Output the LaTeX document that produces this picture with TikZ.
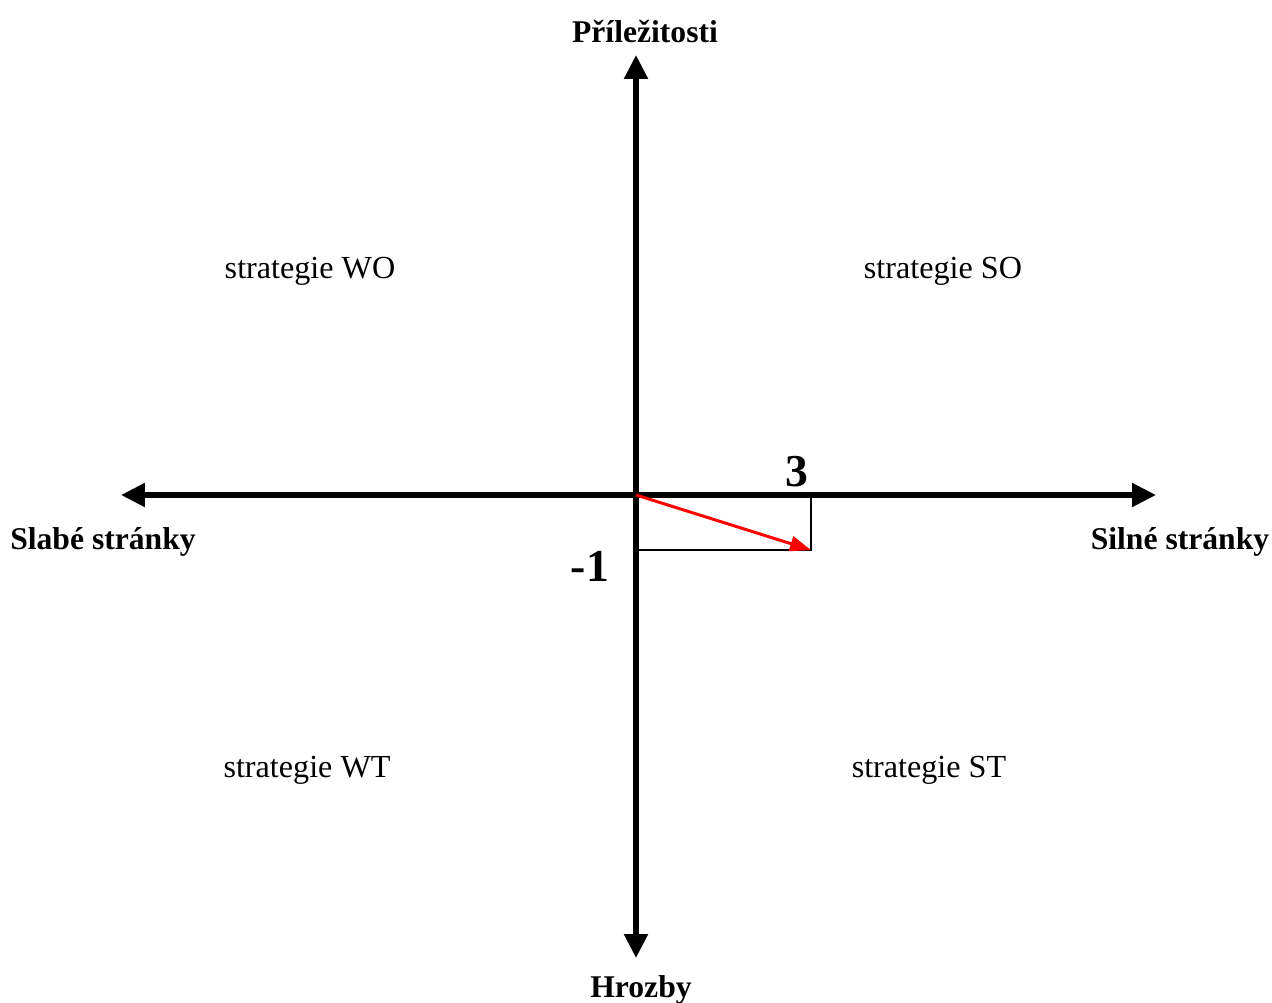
\documentclass[tikz,border=0pt]{standalone}
\usepackage{fontspec}
\setmainfont{Liberation Serif}
\usetikzlibrary{arrows.meta}

\tikzset{
  axislabel/.style={font=\fontsize{18}{20}\selectfont\bfseries, inner sep=0pt},
  quadlabel/.style={font=\fontsize{18.3}{21}\selectfont, inner sep=0pt},
  valuelabel/.style={font=\fontsize{26}{28}\selectfont\bfseries, inner sep=0pt},
}

\begin{document}
\begin{tikzpicture}[x=0.02cm, y=-0.02cm, >={Triangle[length=0.48cm, width=0.46cm]}]
\useasboundingbox (0,0) rectangle (1272,1003);

% Axis ends
\coordinate (o) at (636,495);
\coordinate (top) at (636,55);
\coordinate (bottom) at (636,958);
\coordinate (left) at (121,495);
\coordinate (right) at (1156,495);
\coordinate (p) at (811,550);
\coordinate (px) at (811,495);
\coordinate (py) at (636,550);

% Helper lines
\draw[line width=0.8pt] (py) -- (p) -- (px);

% Axes
\draw[<->, line width=3pt] (left) -- (right);
\draw[<->, line width=3pt] (bottom) -- (top);

% Result vector
\draw[-{Triangle[length=0.42cm, width=0.3cm]}, red, line width=1.7pt] (o) -- (p);

% Axis labels
\node[axislabel] (opp) at (645,32) {Příležitosti};
\node[axislabel] (thr) at (641,990) {Hrozby};
\node[axislabel] (weak) at (103,542) {Slabé stránky};
\node[axislabel] (strong) at (1180,542) {Silné stránky};

% Quadrants
\node[quadlabel] (wo) at (310,271) {strategie WO};
\node[quadlabel] (so) at (943,271) {strategie SO};
\node[quadlabel] (wt) at (307,770) {strategie WT};
\node[quadlabel] (st) at (929,770) {strategie ST};

% Values
\node[valuelabel] (vx) at (797,472) {3};
\node[valuelabel] (vy) at (590,566) {-1};
\end{tikzpicture}
\end{document}
